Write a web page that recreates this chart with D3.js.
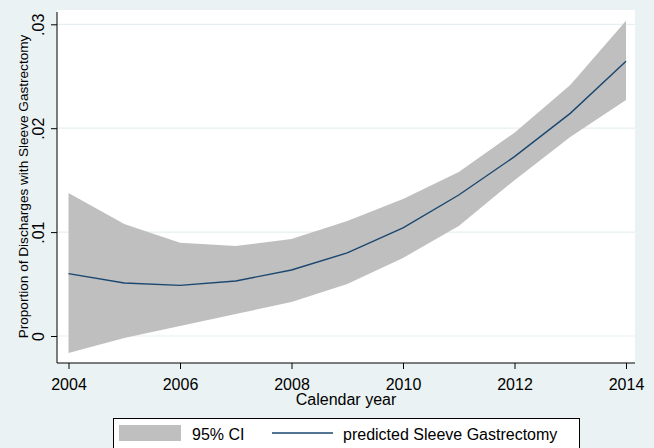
<!DOCTYPE html>
<html>
<head>
<meta charset="utf-8">
<script src="https://cdn.jsdelivr.net/npm/d3@7"></script>
<style>
  body { margin: 0; background: #eaf2f3; }
  svg { display: block; font-family: "Liberation Sans", Arial, sans-serif; }
</style>
</head>
<body>
<div id="chart"></div>
<script>
// values
const years = [2004, 2005, 2006, 2007, 2008, 2009, 2010, 2011, 2012, 2013, 2014]
const predicted = [0.0060, 0.0051, 0.00487, 0.0053, 0.00635, 0.0080, 0.0104, 0.01357, 0.01726, 0.02143, 0.02644]
const ciUpper = [0.01376, 0.01078, 0.00898, 0.00866, 0.00934, 0.01107, 0.01319, 0.01578, 0.01957, 0.02416, 0.03035]
const ciLower = [-0.00164, -0.0002, 0.00096, 0.00212, 0.00327, 0.0050, 0.00751, 0.01059, 0.0150, 0.01915, 0.02271]
const xTicks = [2004, 2006, 2008, 2010, 2012, 2014]
const yTicks = [0, 0.01, 0.02, 0.03]
const yTickLabels = ['0', '.01', '.02', '.03']
const legendLabels = ['95% CI', 'predicted Sleeve Gastrectomy']

const width = 654
const height = 448
const plot = { left: 57, right: 635, top: 10, bottom: 363 }

const svg = d3.select('#chart')
    .append('svg')
    .attr('width', width)
    .attr('height', height)

svg.append('rect')
    .attr('width', width)
    .attr('height', height)
    .attr('fill', '#eaf2f3')

svg.append('rect')
    .attr('x', plot.left)
    .attr('y', plot.top)
    .attr('width', plot.right - plot.left)
    .attr('height', plot.bottom - plot.top)
    .attr('fill', '#ffffff')

const x = d3.scaleLinear().domain([2004, 2014]).range([68.5, 626])
const y = d3.scaleLinear().domain([0, 0.03]).range([336, 24.3])

// grid lines
svg.append('g')
    .selectAll('line')
    .data(yTicks)
    .enter().append('line')
    .attr('x1', plot.left)
    .attr('x2', plot.right)
    .attr('y1', d => y(d))
    .attr('y2', d => y(d))
    .attr('stroke', '#e6eff1')
    .attr('stroke-width', 1.2)

const rows = years.map((yr, i) => ({ year: yr, fit: predicted[i], lo: ciLower[i], hi: ciUpper[i] }))

const area = d3.area()
    .x(d => x(d.year))
    .y0(d => y(d.lo))
    .y1(d => y(d.hi))

svg.append('path')
    .datum(rows)
    .attr('d', area)
    .attr('fill', '#bfbfbf')

const line = d3.line()
    .x(d => x(d.year))
    .y(d => y(d.fit))

svg.append('path')
    .datum(rows)
    .attr('d', line)
    .attr('fill', 'none')
    .attr('stroke', '#1a476f')
    .attr('stroke-width', 1.4)

// axes
const yAxis = svg.append('g')
    .attr('transform', `translate(${plot.left},0)`)
    .call(d3.axisLeft(y).tickValues(yTicks).tickSize(6).tickPadding(0)
        .tickFormat((d, i) => yTickLabels[i]))
yAxis.select('.domain').remove()
yAxis.append('line')
    .attr('x1', 0).attr('x2', 0)
    .attr('y1', 12).attr('y2', plot.bottom)
    .attr('stroke', '#000')
yAxis.selectAll('.tick line').attr('stroke', '#000')
yAxis.selectAll('.tick text')
    .attr('font-size', 16)
    .attr('fill', '#000')
    .attr('text-anchor', 'middle')
    .attr('x', 0)
    .attr('dy', 0)
    .attr('transform', 'translate(-13,0) rotate(-90)')

const xAxis = svg.append('g')
    .attr('transform', `translate(0,${plot.bottom})`)
    .call(d3.axisBottom(x).tickValues(xTicks).tickSize(6).tickFormat(d3.format('d')))
xAxis.select('.domain').remove()
xAxis.append('line')
    .attr('x1', plot.left).attr('x2', plot.right)
    .attr('y1', 0).attr('y2', 0)
    .attr('stroke', '#000')
xAxis.selectAll('.tick line').attr('stroke', '#000')
xAxis.selectAll('.tick text')
    .attr('font-size', 16)
    .attr('fill', '#000')
    .attr('y', 27)
    .attr('dy', 0)

// titles
svg.append('text')
    .attr('x', (plot.left + plot.right) / 2)
    .attr('y', 405)
    .attr('text-anchor', 'middle')
    .attr('font-size', 16)
    .text('Calendar year')

svg.append('text')
    .attr('transform', `translate(28,${(plot.top + plot.bottom) / 2}) rotate(-90)`)
    .attr('text-anchor', 'middle')
    .attr('font-size', 13.6)
    .text('Proportion of Discharges with Sleeve Gastrectomy')

// legend
const legend = svg.append('g')
legend.append('rect')
    .attr('x', 113.5)
    .attr('y', 418.5)
    .attr('width', 466)
    .attr('height', 31)
    .attr('fill', '#ffffff')
    .attr('stroke', '#000')
legend.append('rect')
    .attr('x', 119)
    .attr('y', 425)
    .attr('width', 62)
    .attr('height', 16)
    .attr('fill', '#bfbfbf')
legend.append('text')
    .attr('x', 192)
    .attr('y', 440)
    .attr('font-size', 16)
    .text(legendLabels[0])
legend.append('line')
    .attr('x1', 272).attr('x2', 333)
    .attr('y1', 433).attr('y2', 433)
    .attr('stroke', '#1a476f')
    .attr('stroke-width', 1.4)
legend.append('text')
    .attr('x', 343)
    .attr('y', 440)
    .attr('font-size', 16)
    .text(legendLabels[1])
</script>
</body>
</html>
